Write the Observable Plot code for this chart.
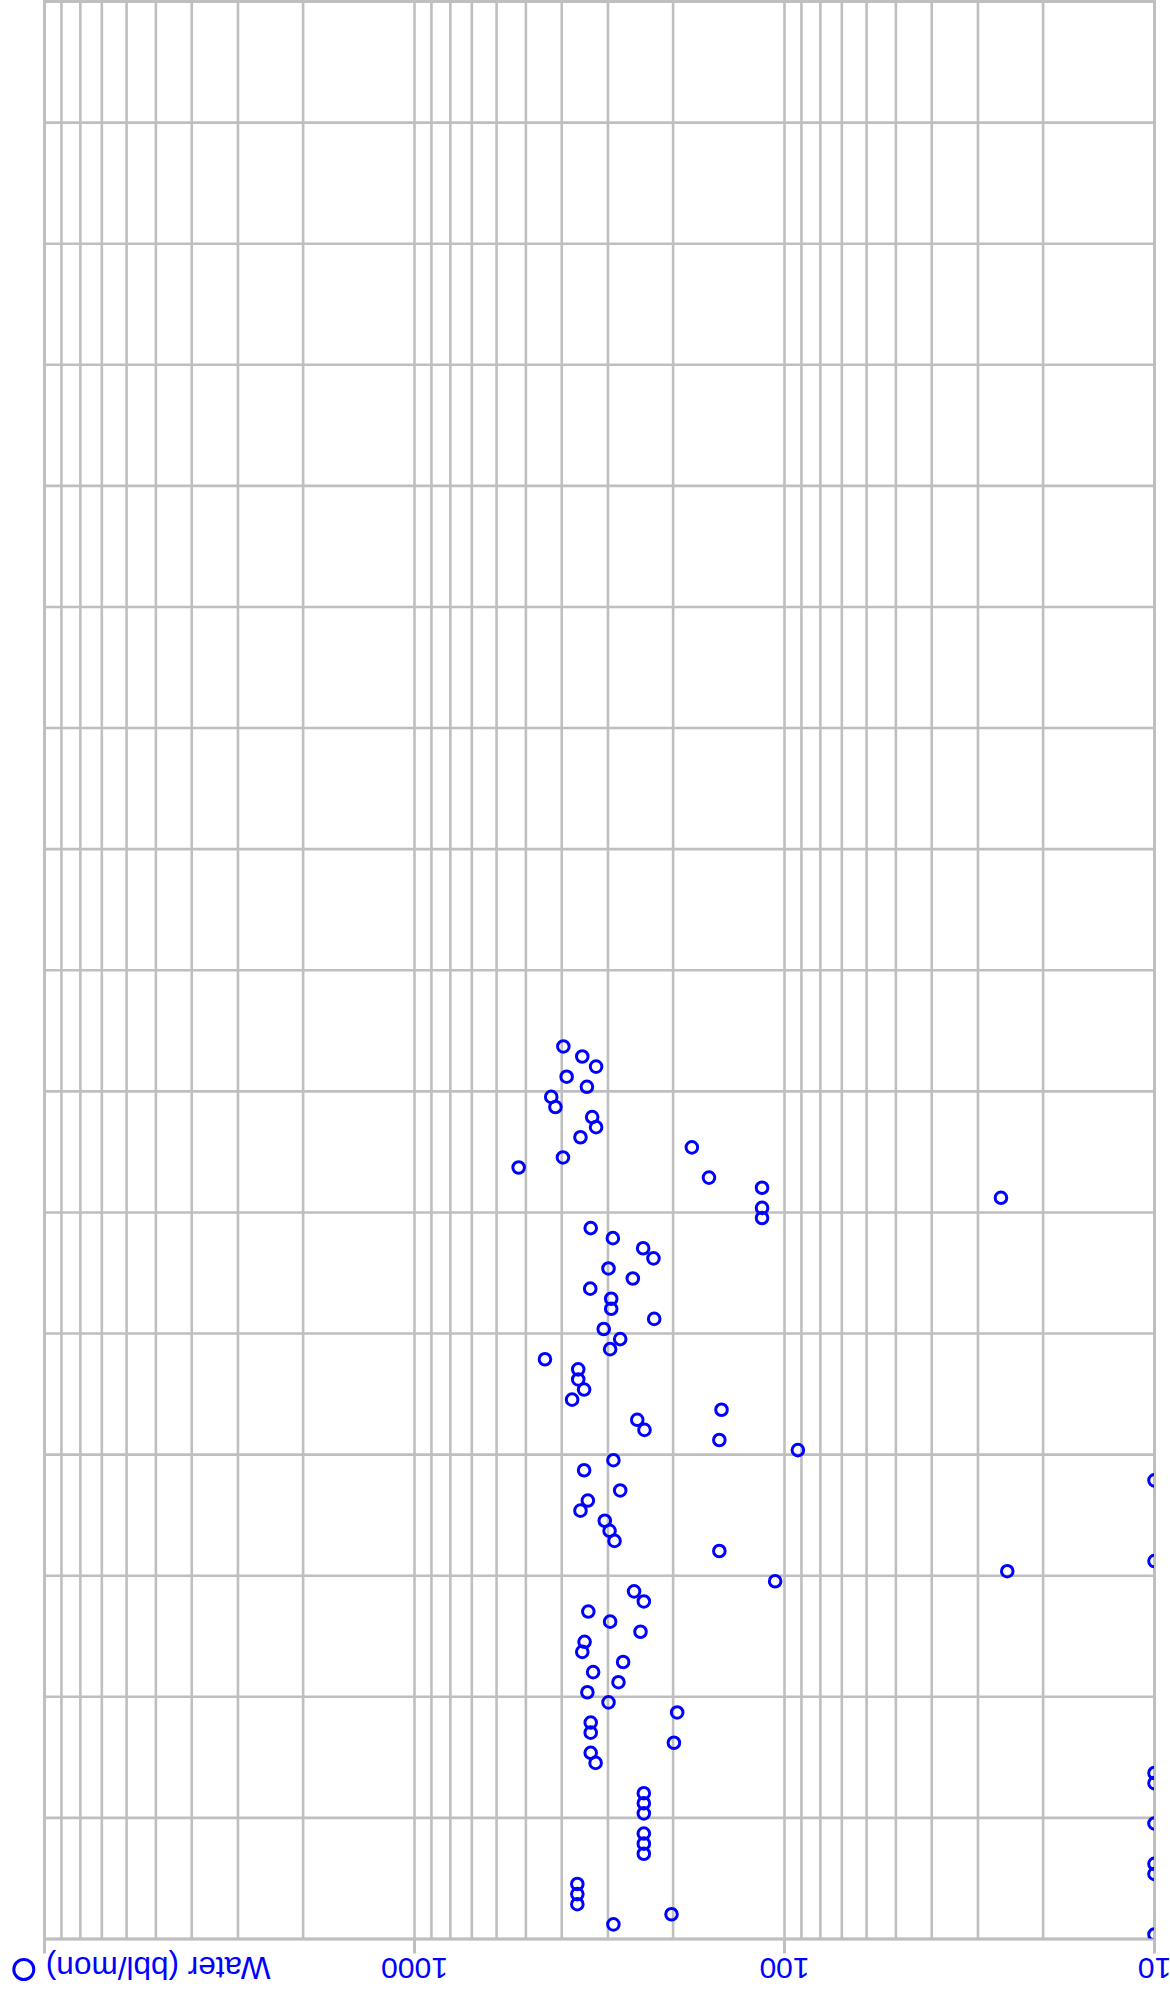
<!DOCTYPE html>
<html>
<head>
<meta charset="utf-8">
<script src="https://cdn.jsdelivr.net/npm/d3@7"></script>
<script src="https://cdn.jsdelivr.net/npm/@observablehq/plot@0.6"></script>
<style>
  html, body { margin: 0; padding: 0; background: #ffffff; }
  #chart { width: 1170px; height: 1994px; overflow: hidden; }
</style>
</head>
<body>
<div id="chart"></div>
<script>
// Monthly water production (bbl/mon); month index counted from the first record
const months = [
  0, 1, 2, 3, 4, 5, 6, 7, 8, 9,
  10, 11, 12, 13, 14, 15, 16, 17, 18, 19,
  20, 21, 22, 23, 24, 25, 26, 27, 28, 29,
  30, 31, 32, 33, 34, 35, 36, 37, 38, 39,
  40, 41, 42, 43, 44, 45, 46, 47, 48, 49,
  50, 51, 52, 53, 54, 55, 56, 57, 58, 59,
  60, 61, 62, 63, 64, 65, 66, 67, 68, 69,
  70, 71, 72, 73, 74, 75, 76, 77, 78, 79,
  80, 81, 82, 83, 84, 85, 86, 87, 88
];
const water = [
  10, 290, 202, 363, 363, 363, 10, 10, 240, 240,
  240, 10, 240, 240, 240, 10, 10, 324, 334, 199,
  334, 334, 195, 299, 341, 281, 329, 273, 352, 347,
  245, 296, 339, 240, 255, 106, 25, 10, 150, 288,
  297, 306, 356, 340, 278, 10, 348, 290, 92, 150,
  239, 250, 148, 375, 348, 361, 361, 444, 296, 278,
  308, 225, 294, 294, 335, 257, 299, 226, 241, 291,
  334, 115, 115, 26, 115, 160, 523, 397, 178, 356,
  323, 331, 416, 427, 342, 388, 323, 352, 396
];

const seriesName = "Water (bbl/mon)";
const xTickValues = [10, 100, 1000, 10000];
const xTickLabels = ["10", "100", "1000", ""];
const xGridValues = [
  10, 20, 30, 40, 50, 60, 70, 80, 90,
  100, 200, 300, 400, 500, 600, 700, 800, 900,
  1000, 2000, 3000, 4000, 5000, 6000, 7000, 8000, 9000, 10000
];
const yGridValues = [0, 12, 24, 36, 48, 60, 72, 84, 96, 108, 120, 132, 144, 156, 168, 180, 192];
const midMonth = 0.45;

const rows = months.map((m, i) => ({t: m + midMonth, water: water[i]}));

const blue = "#0000ff";
const gray = "#bfbfbf";

const chart = Plot.plot({
  width: 1170,
  height: 1994,
  marginLeft: 44,
  marginRight: 16,
  marginTop: 1,
  marginBottom: 55.5,
  style: {fontFamily: "'Liberation Sans', Arial, sans-serif", background: "#ffffff", overflow: "visible"},
  x: {type: "log", domain: [10, 10000], reverse: true, axis: null},
  y: {type: "linear", domain: [0, 192], axis: null},
  marks: [
    Plot.gridX({ticks: xGridValues, stroke: gray, strokeOpacity: 1, strokeWidth: 2.6}),
    Plot.gridY({ticks: yGridValues, stroke: gray, strokeOpacity: 1, strokeWidth: 2.6}),
    Plot.frame({stroke: gray, strokeWidth: 3}),
    Plot.axisX({
      ticks: xTickValues,
      tickFormat: d => xTickLabels[xTickValues.indexOf(d)],
      tickSize: 15,
      tickPadding: 14,
      tickRotate: 180,
      textAnchor: "middle",
      lineAnchor: "middle",
      fontSize: 30,
      fill: blue,
      stroke: gray,
      strokeWidth: 3,
      label: null
    }),
    Plot.dot(rows, {
      x: "water",
      y: "t",
      r: 5.8,
      stroke: blue,
      strokeWidth: 3,
      fill: "none",
      clip: true
    }),
    Plot.dot([seriesName], {
      frameAnchor: "bottom-left",
      dx: -20.7,
      dy: 30.5,
      r: 10,
      stroke: blue,
      strokeWidth: 3,
      fill: "none"
    }),
    Plot.text([seriesName], {
      text: d => d,
      frameAnchor: "bottom-left",
      dx: 226,
      dy: 28,
      rotate: 180,
      textAnchor: "start",
      lineAnchor: "middle",
      fontSize: 31.5,
      fill: blue
    })
  ]
});
document.getElementById("chart").appendChild(chart);
</script>
</body>
</html>
